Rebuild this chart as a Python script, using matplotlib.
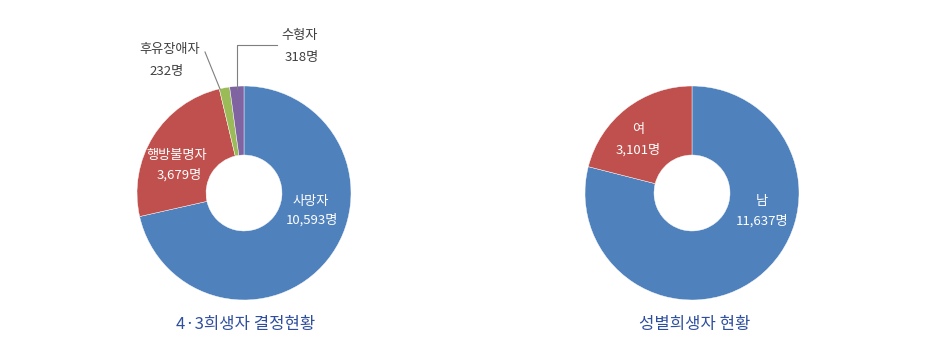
import numpy as np
import matplotlib.pyplot as plt

plt.rcParams['font.family'] = ['Noto Sans CJK KR', 'DejaVu Sans']

# data
left_labels = ['사망자', '행방불명자', '후유장애자', '수형자']
left_values = [10593, 3679, 232, 318]
left_colors = ['#4f81bd', '#c0504d', '#9bbb59', '#8064a2']

right_labels = ['남', '여']
right_values = [11637, 3101]
right_colors = ['#4f81bd', '#c0504d']

titles = ['4·3희생자 결정현황', '성별희생자 현황']

W, H = 941, 363
fig = plt.figure(figsize=(W / 100, H / 100), dpi=100)
ax = fig.add_axes([0, 0, 1, 1])

R = 107
hole = 0.355
wp = dict(width=R * (1 - hole), edgecolor='white', linewidth=0.3)

# left donut
ax.pie(left_values, colors=left_colors, startangle=90, counterclock=False,
       center=(244, H - 193), radius=R, wedgeprops=wp, frame=True)
# right donut
ax.pie(right_values, colors=right_colors, startangle=90, counterclock=False,
       center=(692, H - 193), radius=R, wedgeprops=wp, frame=True)
ax.set_xlim(0, W)
ax.set_ylim(0, H)
ax.set_aspect('equal')
ax.axis('off')

def fmt(v):
    return '{:,}명'.format(v)

fs = 9.5
# labels inside
ax.text(311, H - 202, left_labels[0], color='white', fontsize=fs, ha='center', va='center')
ax.text(312, H - 220, fmt(left_values[0]), color='white', fontsize=fs, ha='center', va='center')
ax.text(177, H - 155, left_labels[1], color='white', fontsize=fs, ha='center', va='center')
ax.text(179, H - 175, fmt(left_values[1]), color='white', fontsize=fs, ha='center', va='center')

# labels outside with leader lines
gray = '#404040'
ax.text(170, H - 50, left_labels[2], color=gray, fontsize=fs, ha='center', va='center')
ax.text(167, H - 72, fmt(left_values[2]), color=gray, fontsize=fs, ha='center', va='center')
ax.plot([205, 220], [H - 52, H - 89], color='#7f7f7f', lw=0.8)
ax.text(300, H - 35, left_labels[3], color=gray, fontsize=fs, ha='center', va='center')
ax.text(302, H - 57, fmt(left_values[3]), color=gray, fontsize=fs, ha='center', va='center')
ax.plot([237, 237, 277], [H - 89, H - 45, H - 45], color='#7f7f7f', lw=0.8)

# right labels
ax.text(638, H - 129, right_labels[1], color='white', fontsize=fs, ha='center', va='center')
ax.text(638, H - 150, fmt(right_values[1]), color='white', fontsize=fs, ha='center', va='center')
ax.text(762, H - 201, right_labels[0], color='white', fontsize=fs, ha='center', va='center')
ax.text(762, H - 221, fmt(right_values[0]), color='white', fontsize=fs, ha='center', va='center')

# titles
ax.text(246, H - 325, titles[0], color='#2f4f9e', fontsize=12, ha='center', va='center')
ax.text(695, H - 325, titles[1], color='#2f4f9e', fontsize=12, ha='center', va='center')

fig.savefig('out.png', dpi=100)
